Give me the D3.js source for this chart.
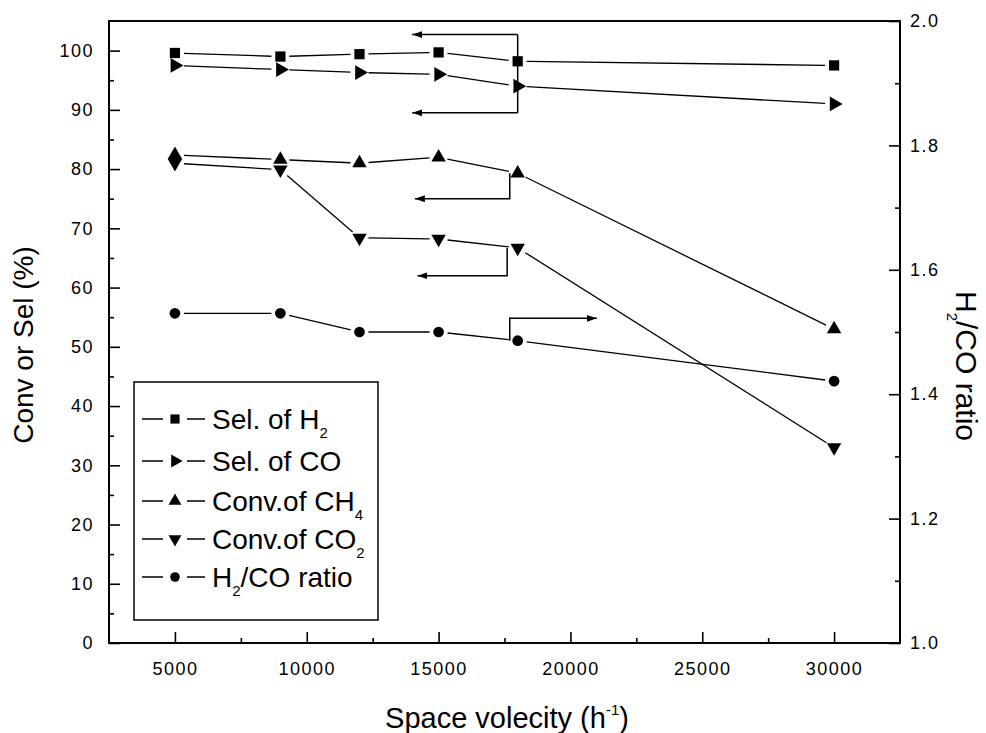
<!DOCTYPE html>
<html><head><meta charset="utf-8">
<script src="https://cdn.jsdelivr.net/npm/d3@7"></script>
<style>body{margin:0;background:#fff}svg{display:block}</style>
</head><body><svg id="c" width="986" height="733"></svg>
<script>
// ---------- data ----------
const velocity = [5000, 9000, 12000, 15000, 18000, 30000];
const selH2    = [99.6, 99.0, 99.4, 99.7, 98.2, 97.5];
const selCO    = [97.5, 96.8, 96.3, 96.0, 94.0, 91.0];
const convCH4  = [82.4, 81.6, 81.0, 82.0, 79.3, 53.0];
const convCO2  = [81.0, 79.9, 68.4, 68.2, 66.7, 33.0];
const ratioH2CO= [1.53, 1.53, 1.50, 1.50, 1.486, 1.421];

const xTicks = [5000, 10000, 15000, 20000, 25000, 30000];
const xMinor = [7500, 12500, 17500, 22500, 27500];
const yLeftTicks = [0,10,20,30,40,50,60,70,80,90,100];
const yLeftMinor = [5,15,25,35,45,55,65,75,85,95];
const yRightTicks = [1.0,1.2,1.4,1.6,1.8,2.0];
const yRightMinor = [1.1,1.3,1.5,1.7,1.9];

const legendLabels = [
  {main:"Sel. of H", sub:"2", rest:""},
  {main:"Sel. of CO", sub:"", rest:""},
  {main:"Conv.of CH", sub:"4", rest:""},
  {main:"Conv.of CO", sub:"2", rest:""},
  {main:"H", sub:"2", rest:"/CO ratio"}
];

// annotation arrows (data units)
const arrowSel  = {x:18000, top:102.7, bottom:89.5, tipX:14000};
const arrowCH4  = {x:17700, from:79.3, to:75.0, tipX:14100};
const arrowCO2  = {x:17600, from:66.7, to:62.0, tipX:14200};
const arrowRatio= {x:17700, from:1.486, to:1.522, tipX:21000};

// ---------- layout ----------
const L=109, R=900, T=21, B=643;
const svg = d3.select("#c");
const x  = d3.scaleLinear().domain([2500, 32500]).range([L, R]);
const yL = d3.scaleLinear().domain([0, 105]).range([B, T]);
const yR = d3.scaleLinear().domain([1, 2]).range([B, T]);
const FONT = "'Liberation Sans', Arial, sans-serif";

// defs: arrowheads
const defs = svg.append("defs");
defs.append("marker").attr("id","ah").attr("viewBox","0 0 10 8")
  .attr("refX",10).attr("refY",4).attr("markerWidth",10).attr("markerHeight",8)
  .attr("markerUnits","userSpaceOnUse").attr("orient","auto")
  .append("path").attr("d","M0,0.5 L10,4 L0,7.5 Z").attr("fill","#000");

// ---------- axes ----------
function styleAxis(g){
  g.select(".domain").remove();
  g.selectAll("line").attr("stroke","#000").attr("stroke-width",1.6);
  g.selectAll("text").attr("fill","#000").style("font-family",FONT)
    .style("font-size","18px").style("letter-spacing","1.5px");
}
svg.append("g").attr("transform",`translate(0,${B})`)
  .call(d3.axisBottom(x).tickValues(xTicks).tickSizeInner(-11).tickSizeOuter(0)
    .tickPadding(19).tickFormat(d3.format("d"))).call(styleAxis);
svg.append("g").attr("transform",`translate(0,${B})`)
  .call(d3.axisBottom(x).tickValues(xMinor).tickSizeInner(-5).tickSizeOuter(0).tickFormat(""))
  .call(styleAxis);
svg.append("g").attr("transform",`translate(${L},0)`)
  .call(d3.axisLeft(yL).tickValues(yLeftTicks).tickSizeInner(-11).tickSizeOuter(0)
    .tickPadding(15).tickFormat(d3.format("d"))).call(styleAxis);
svg.append("g").attr("transform",`translate(${L},0)`)
  .call(d3.axisLeft(yL).tickValues(yLeftMinor).tickSizeInner(-5).tickSizeOuter(0).tickFormat(""))
  .call(styleAxis);
svg.append("g").attr("transform",`translate(${R},0)`)
  .call(d3.axisRight(yR).tickValues(yRightTicks).tickSizeInner(-11).tickSizeOuter(0)
    .tickPadding(10).tickFormat(d3.format(".1f"))).call(styleAxis);
svg.append("g").attr("transform",`translate(${R},0)`)
  .call(d3.axisRight(yR).tickValues(yRightMinor).tickSizeInner(-5).tickSizeOuter(0).tickFormat(""))
  .call(styleAxis);

// frame
svg.append("rect").attr("x",L).attr("y",T).attr("width",R-L).attr("height",B-T)
  .attr("fill","none").attr("stroke","#000").attr("stroke-width",2);

// ---------- series ----------
const series = [
  {v:selH2,   y:yL, sym:d3.symbolSquare,   rot:0,   size:105},
  {v:selCO,   y:yL, sym:d3.symbolTriangle, rot:90,  size:95},
  {v:convCH4, y:yL, sym:d3.symbolTriangle, rot:0,   size:90},
  {v:convCO2, y:yL, sym:d3.symbolTriangle, rot:180, size:90},
  {v:ratioH2CO, y:yR, sym:d3.symbolCircle, rot:0,   size:90}
];
const gap = 9;
series.forEach(s=>{
  const pts = velocity.map((vx,i)=>[x(vx), s.y(s.v[i])]);
  const g = svg.append("g");
  for(let i=0;i<pts.length-1;i++){
    const [x0,y0]=pts[i],[x1,y1]=pts[i+1];
    const len=Math.hypot(x1-x0,y1-y0), ux=(x1-x0)/len, uy=(y1-y0)/len;
    g.append("line").attr("x1",x0+ux*gap).attr("y1",y0+uy*gap)
      .attr("x2",x1-ux*gap).attr("y2",y1-uy*gap)
      .attr("stroke","#000").attr("stroke-width",1.3);
  }
  g.selectAll("path").data(pts).join("path")
    .attr("d",d3.symbol(s.sym,s.size))
    .attr("transform",d=>`translate(${d[0]},${d[1]}) rotate(${s.rot})`)
    .attr("fill","#000");
});

// ---------- annotation arrows ----------
const ann = svg.append("g").attr("fill","none").attr("stroke","#000").attr("stroke-width",1.5);
ann.append("line").attr("x1",x(arrowSel.x)).attr("x2",x(arrowSel.x))
  .attr("y1",yL(arrowSel.top)).attr("y2",yL(arrowSel.bottom));
[arrowSel.top, arrowSel.bottom].forEach(v=>{
  ann.append("line").attr("x1",x(arrowSel.x)).attr("x2",x(arrowSel.tipX))
    .attr("y1",yL(v)).attr("y2",yL(v)).attr("marker-end","url(#ah)");
});
[arrowCH4, arrowCO2].forEach(a=>{
  ann.append("path").attr("d",`M${x(a.x)},${yL(a.from)}V${yL(a.to)}H${x(a.tipX)}`)
    .attr("marker-end","url(#ah)");
});
ann.append("path").attr("d",`M${x(arrowRatio.x)},${yR(arrowRatio.from)}V${yR(arrowRatio.to)}H${x(arrowRatio.tipX)}`)
  .attr("marker-end","url(#ah)");

// ---------- legend ----------
const lg = svg.append("g");
lg.append("rect").attr("x",134).attr("y",382).attr("width",244).attr("height",238)
  .attr("fill","#fff").attr("stroke","#000").attr("stroke-width",1.5);
const rowY = [419, 461, 501, 539, 577];
series.forEach((s,i)=>{
  const cy=rowY[i];
  lg.append("line").attr("x1",142).attr("x2",163).attr("y1",cy).attr("y2",cy)
    .attr("stroke","#000").attr("stroke-width",1.5);
  lg.append("line").attr("x1",187).attr("x2",205).attr("y1",cy).attr("y2",cy)
    .attr("stroke","#000").attr("stroke-width",1.5);
  lg.append("path").attr("d",d3.symbol(s.sym,s.size*0.8))
    .attr("transform",`translate(175,${cy}) rotate(${s.rot})`).attr("fill","#000");
  const t = lg.append("text").attr("x",212).attr("y",cy+10)
    .style("font-family",FONT).style("font-size","28px").attr("fill","#000");
  const lab = legendLabels[i];
  t.append("tspan").text(lab.main);
  if(lab.sub){
    t.append("tspan").text(lab.sub).style("font-size","15px").attr("dy",9);
    if(lab.rest) t.append("tspan").text(lab.rest).attr("dy",-9);
  }
});

// ---------- axis titles ----------
const xt = svg.append("text").attr("x",507).attr("y",728).attr("text-anchor","middle")
  .style("font-family",FONT).style("font-size","29px").attr("fill","#000");
xt.append("tspan").text("Space volecity (h");
xt.append("tspan").text("-1").style("font-size","15px").attr("dy",-13);
xt.append("tspan").text(")").attr("dy",13);

svg.append("text").attr("transform","translate(33,345) rotate(-90)")
  .attr("text-anchor","middle").style("font-family",FONT).style("font-size","28px")
  .attr("fill","#000").text("Conv or Sel (%)");

const rt = svg.append("text").attr("transform","translate(956,366) rotate(90)")
  .attr("text-anchor","middle").style("font-family",FONT).style("font-size","30px").attr("fill","#000");
rt.append("tspan").text("H");
rt.append("tspan").text("2").style("font-size","15px").attr("dy",9);
rt.append("tspan").text("/CO ratio").attr("dy",-9);
</script></body></html>
